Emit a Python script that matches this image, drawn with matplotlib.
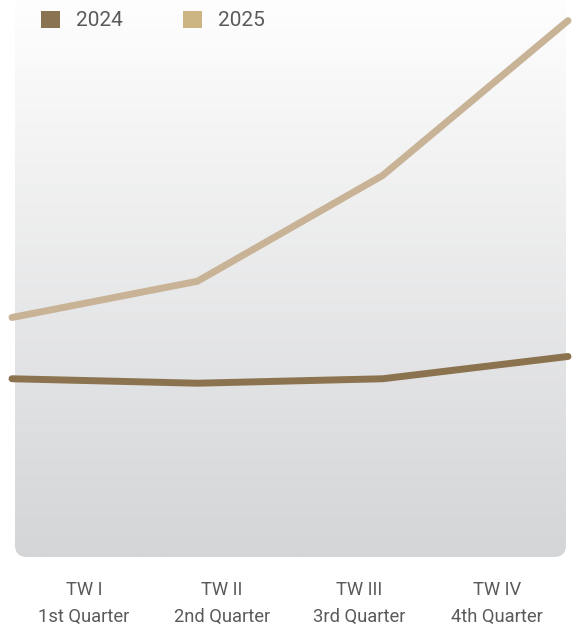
import numpy as np
import matplotlib
matplotlib.use("Agg")
import matplotlib.pyplot as plt
from matplotlib.patches import FancyBboxPatch, Patch

plt.rcParams['font.family'] = ['Roboto', 'DejaVu Sans']

# quarterly values
quarters = ["TW I\n1st Quarter", "TW II\n2nd Quarter", "TW III\n3rd Quarter", "TW IV\n4th Quarter"]
sales_2024 = [32, 31.2, 32, 36]
sales_2025 = [43, 49.5, 68.5, 96.3]

color_2024 = "#8b7350"
color_2025 = "#c8b397"
legend_2024 = "#8a7350"
legend_2025 = "#cdb483"
text_color = "#5a5a5a"

W, H = 572, 630
fig = plt.figure(figsize=(W / 100, H / 100), dpi=100)

# background panel with vertical gradient and rounded bottom corners
ax_bg = fig.add_axes([15 / W, 73 / H, 551 / W, 557 / H])
ax_bg.set_xlim(-0.5, 3.5)
ax_bg.set_ylim(0, 1)
for s in ax_bg.spines.values():
    s.set_visible(False)
ax_bg.set_yticks([])
ax_bg.set_xticks(range(len(quarters)))
ax_bg.set_xticklabels(quarters, fontsize=13.2, color=text_color, linespacing=1.66)
ax_bg.tick_params(axis="x", length=0, pad=17)

panel = FancyBboxPatch((0.15, 0.73), 5.51, 5.9,
                       boxstyle="round,pad=0,rounding_size=0.12",
                       transform=fig.dpi_scale_trans, facecolor="none", edgecolor="none")
ax_bg.add_patch(panel)
top = np.array([254, 254, 254]) / 255
bottom = np.array([212, 213, 215]) / 255
t = np.linspace(0, 1, 256)[:, None]
grad = top[None, :] * (1 - t) + bottom[None, :] * t
grad = np.repeat(grad[:, None, :], 2, axis=1)
img = ax_bg.imshow(grad, extent=[-0.5, 3.5, 0, 1], aspect="auto", origin="upper",
                   interpolation="bilinear")
img.set_clip_path(panel)

# line axes
ax = fig.add_axes([12 / W, 73 / H, 556 / W, 557 / H])
ax.patch.set_alpha(0)
ax.set_xlim(0, 3)
ax.set_ylim(0, 100)
ax.axis("off")
x = np.arange(len(quarters))
ax.plot(x, sales_2025, color=color_2025, lw=5, solid_capstyle="round",
        solid_joinstyle="round", clip_on=False)
ax.plot(x, sales_2024, color=color_2024, lw=5, solid_capstyle="round",
        solid_joinstyle="round", clip_on=False)

handles = [Patch(facecolor=legend_2024, label="2024"), Patch(facecolor=legend_2025, label="2025")]
leg = fig.legend(handles=handles, loc="upper left", bbox_to_anchor=(41 / W, 1 - 10.5 / H),
                 ncol=2, frameon=False, fontsize=15, handlelength=0.92, handleheight=0.92,
                 handletextpad=0.75, columnspacing=2.9, borderpad=0, borderaxespad=0)
for txt in leg.get_texts():
    txt.set_color(text_color)

fig.savefig("out.png", dpi=100, facecolor="white")
